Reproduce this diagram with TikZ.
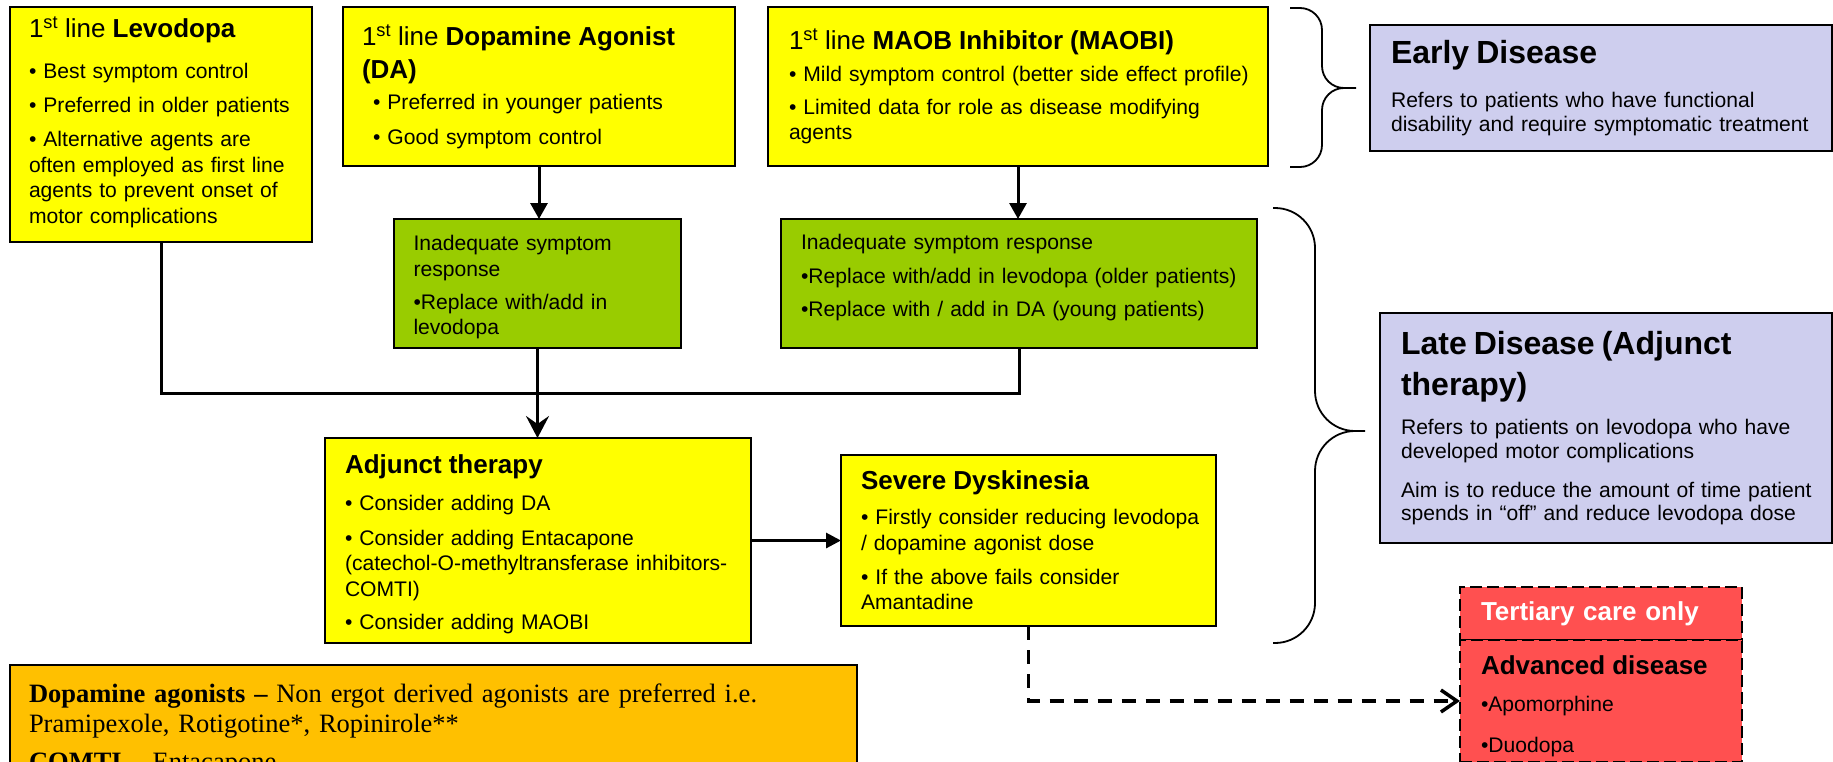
\documentclass[tikz,border=0pt]{standalone}
\usepackage{fontspec}
\setmainfont{Liberation Sans}
\newfontfamily\timesfont{Liberation Serif}
\usetikzlibrary{arrows.meta}

\definecolor{boxyellow}{RGB}{255,255,0}
\definecolor{boxgreen}{RGB}{153,204,0}
\definecolor{boxlilac}{RGB}{206,206,238}
\definecolor{boxorange}{RGB}{255,192,0}
\definecolor{boxred}{RGB}{255,80,80}

\newcommand\bodyfs{\fontsize{21.1}{25.5}\selectfont}
\newcommand\lilacfs{\fontsize{21.1}{23.5}\selectfont}
\newcommand\headfs{\fontsize{26}{30}\selectfont}
\newcommand\bigfs{\fontsize{32}{34}\selectfont}
\newcommand\strutup[1]{\rule{0pt}{#1}}
\newcommand\strutdown[1]{\rule[-#1]{0pt}{#1}}

\begin{document}
\begin{tikzpicture}[x=1pt,y=-1pt,
    box/.style={draw,line width=1.5pt,anchor=north west,align=left,inner ysep=0pt,outer sep=0pt,font=\bodyfs},
    line/.style={line width=3pt},
    arrow/.style={line width=3pt,-{Triangle[length=16pt,width=17pt]}},
    dasharrow/.style={line width=3.5pt,dash pattern=on 14pt off 10pt,-{Straight Barb[length=16pt,width=22pt]}},
    brace/.style={line width=1.8pt}]
\useasboundingbox (0,0) rectangle (1833,761);
\clip (0,0) rectangle (1833,761);

\node[box,fill=boxyellow,inner xsep=19pt,text width=264pt,minimum height=235pt] (levo) at (10,7)
  {{\headfs 1\textsuperscript{st} line \textbf{Levodopa}}\\[15.7pt]
   • Best symptom control\\[8pt]
   \mbox{• Preferred in older patients}\\[9pt]
   • Alternative agents are\\
   \mbox{often employed as first line}\\
   agents to prevent onset of\\
   motor complications\strutdown{9.1pt}};
\node[box,fill=boxyellow,inner xsep=19pt,text width=354pt,minimum height=159pt] (da) at (343,7)
  {{\headfs 1\textsuperscript{st} line \textbf{Dopamine Agonist}\\[7.5pt]\textbf{(DA)}}\\[6pt]
   \hspace*{11pt}• Preferred in younger patients\\[9pt]
   \hspace*{11pt}• Good symptom control};
\node[box,fill=boxyellow,inner xsep=21pt,text width=458pt,minimum height=159pt] (maob) at (768,7)
  {{\headfs 1\textsuperscript{st} line \textbf{MAOB Inhibitor (MAOBI)}}\\[6.5pt]
   \mbox{• Mild symptom control (better side effect profile)}\\[7.5pt]
   \mbox{• Limited data for role as disease modifying}\\
   agents};
\node[box,fill=boxlilac,inner xsep=21pt,text width=420pt,minimum height=126pt,font=\lilacfs] (early) at (1370,25)
  {{\bigfs\bfseries Early Disease}\\[20.5pt]
   Refers to patients who have functional\\
   \mbox{disability and require symptomatic treatment}};

\node[box,fill=boxgreen,inner xsep=19.5pt,text width=248pt,minimum height=129pt] (inad1) at (394,219)
  {\strutup{22.5pt}Inadequate symptom\\
   response\\[7.5pt]
   •Replace with/add in\\
   levodopa};
\node[box,fill=boxgreen,inner xsep=20pt,text width=436pt,minimum height=129pt] (inad2) at (781,219)
  {Inadequate symptom response\\[8.5pt]
   \mbox{•Replace with/add in levodopa (older patients)}\\[7.5pt]
   \mbox{•Replace with / add in DA (young patients)}\strutdown{16.5pt}};

\node[box,fill=boxlilac,inner xsep=21pt,text width=410pt,minimum height=230pt,font=\lilacfs] (late) at (1380,313)
  {{\bigfs\bfseries Late Disease (Adjunct\\[10.5pt]therapy)}\\[15.8pt]
   \mbox{Refers to patients on levodopa who have}\\
   developed motor complications\\[15.5pt]
   \mbox{Aim is to reduce the amount of time patient}\\
   \mbox{spends in “off” and reduce levodopa dose}};

\node[box,fill=boxyellow,inner xsep=20pt,text width=386pt,minimum height=205pt] (adj) at (325,438)
  {\strutup{26pt}{\headfs\bfseries Adjunct therapy}\\[11pt]
   • Consider adding DA\\[9.5pt]
   • Consider adding Entacapone\\
   \mbox{(catechol-O-methyltransferase inhibitors-}\\
   COMTI)\\[7.5pt]
   • Consider adding MAOBI};
\node[box,fill=boxyellow,inner xsep=20pt,text width=335pt,minimum height=171pt] (sev) at (841,455)
  {{\headfs\bfseries Severe Dyskinesia}\\[9.5pt]
   \mbox{• Firstly consider reducing levodopa}\\
   / dopamine agonist dose\\[8.5pt]
   • If the above fails consider\\
   Amantadine};

\node[box,fill=boxred,dash pattern=on 12pt off 5pt,inner xsep=21pt,text width=240pt,minimum height=53pt,text=white,font=\headfs\bfseries] (tert) at (1460,587)
  {Tertiary care only};
\node[box,fill=boxred,dash pattern=on 12pt off 5pt,inner xsep=21pt,text width=240pt,minimum height=122pt] (adv) at (1460,640)
  {\strutup{29pt}{\headfs\bfseries Advanced disease}\\[11.8pt]
   •Apomorphine\\[15.8pt]
   •Duodopa};

\node[box,fill=boxorange,inner xsep=19pt,text width=809pt,minimum height=130pt,font=\timesfont\fontsize{26.5}{30}\selectfont] (drugs) at (10,665)
  {\textbf{Dopamine agonists –} Non ergot derived agonists are preferred i.e.\\
   Pramipexole, Rotigotine*, Ropinirole**\\[8pt]
   \textbf{COMTI –} Entacapone};

\coordinate (bus) at (0,393);
\draw[line] (levo.south) |- (inad2.south |- bus) -- (inad2.south);
\draw[arrow] (da.south) -- (da.south |- inad1.north);
\draw[arrow] (maob.south) -- (maob.south |- inad2.north);
\draw[line,-{Stealth[length=22pt,width=23pt,inset=8pt]}] (inad1.south) -- (inad1.south |- adj.north);
\draw[line,-{Triangle[length=15pt,width=15pt]}] (adj.east) -- (sev.west);
\draw[dasharrow] (sev.south) |- (adv.west);

\draw[brace,rounded corners=22pt] (1290,8) -- (1322,8) -- (1322,88) -- (1356,88)
  (1356,88) -- (1322,88) -- (1322,167) -- (1290,167);
\draw[brace,rounded corners=40pt] (1273,208) -- (1315,208) -- (1315,431) -- (1365,431)
  (1365,431) -- (1315,431) -- (1315,643) -- (1273,643);
\end{tikzpicture}
\end{document}
